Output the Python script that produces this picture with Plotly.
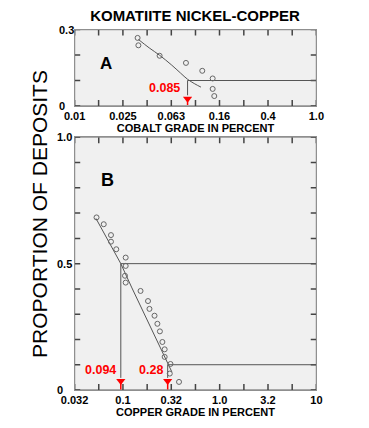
import math
import plotly.graph_objects as go

# Browser body margin (8px) shifts the figure; lay everything out in page pixels minus OFF.
OFF = 8
PAGE_W, PAGE_H = 369, 428
W, H = PAGE_W - OFF, PAGE_H - OFF

title_text = "KOMATIITE NICKEL-COPPER"
y_title = "PROPORTION OF DEPOSITS"

# ---- Panel A: cobalt grade ----
cobalt_grade = [0.0332, 0.0337, 0.0505, 0.0834, 0.1138, 0.1387, 0.1387, 0.143]
cobalt_prop = [0.267, 0.238, 0.197, 0.169, 0.138, 0.108, 0.067, 0.039]
cobalt_curve_grade = [0.0337, 0.0414, 0.0505, 0.063, 0.0753, 0.0859, 0.0986, 0.111]
cobalt_curve_prop = [0.261, 0.228, 0.199, 0.162, 0.129, 0.105, 0.087, 0.074]
cobalt_pct_grade = 0.086
cobalt_pct_label = "0.085"
cobalt_pct_prop = 0.1
cobalt_x_ticks = [0.01, 0.0158, 0.0251, 0.0398, 0.0631, 0.1, 0.158, 0.251, 0.398, 0.631, 1.0]
cobalt_x_text = ["0.01", "", "0.025", "", "0.063", "", "0.16", "", "0.4", "", "1.0"]
cobalt_y_ticks = [0, 0.1, 0.2, 0.3]
cobalt_y_labels = {0: "0", 0.3: "0.3"}

# ---- Panel B: copper grade ----
copper_grade = [0.0533, 0.0633, 0.0752, 0.0752, 0.0853, 0.1067, 0.1067, 0.105, 0.1067,
                0.152, 0.1816, 0.188, 0.212, 0.227, 0.241, 0.2557, 0.27, 0.27, 0.31,
                0.305, 0.38]
copper_prop = [0.683, 0.656, 0.613, 0.587, 0.557, 0.524, 0.491, 0.452, 0.425,
               0.392, 0.352, 0.321, 0.294, 0.262, 0.232, 0.190, 0.161, 0.131, 0.103,
               0.065, 0.032]
copper_curve_grade = [0.0526, 0.0708, 0.095, 0.1238, 0.1734, 0.29, 0.32]
copper_curve_prop = [0.679, 0.586, 0.5, 0.404, 0.285, 0.1, 0.072]
copper_pct_grade = [0.095, 0.29]
copper_pct_labels = ["0.094", "0.28"]
copper_pct_prop = [0.5, 0.1]
copper_x_ticks = [0.03163, 0.0562, 0.1, 0.178, 0.316, 0.562, 1.0, 1.78, 3.16, 5.62, 10]
copper_x_text = ["0.032", "", "0.1", "", "0.32", "", "1.0", "", "3.2", "", "10"]
copper_y_ticks = [0, 0.1, 0.2, 0.3, 0.4, 0.5, 0.6, 0.7, 0.8, 0.9, 1.0]
copper_y_labels = {0: "0", 0.5: "0.5", 1.0: "1.0"}

arrow_prop_a = 0.028
arrow_prop_b = 0.036
stem_bottom_a = 0.042
stem_bottom_b = 0.048

LINE = "#555555"
FRAME = "#8f8f8f"
TICK = "#444444"
RED = "#ff0000"
FONT = "Liberation Sans, Arial, sans-serif"
TICK_LEN = 6


def px_x(p):
    return (p - OFF) / W


def px_y(p):
    return 1 - (p - OFF) / H


fig = go.Figure()

x_left, x_right = 64, 321.5
ya_top, ya_bot = 29.5, 106
yb_top, yb_bot = 137.3, 390
x_dom = [px_x(x_left), px_x(x_right)]
ya_dom = [px_y(ya_bot), px_y(ya_top)]
yb_dom = [px_y(yb_bot), px_y(yb_top)]
panel_w = x_right - x_left

# Frame and inside tick marks (all four sides) drawn as line traces from the tick lists
panels = [("x", "y", [-2, 0], [0, 0.3], cobalt_x_ticks, cobalt_y_ticks, ya_bot - ya_top),
          ("x2", "y2", [-1.5, 1], [0, 1], copper_x_ticks, copper_y_ticks, yb_bot - yb_top)]
for xa, ya, xr, yr, xticks, yticks, ph in panels:
    x0, x1 = 10 ** xr[0], 10 ** xr[1]
    fig.add_trace(go.Scatter(x=[x0, x1, x1, x0, x0], y=[yr[0], yr[0], yr[1], yr[1], yr[0]],
                             mode="lines", line=dict(color=FRAME, width=1.3),
                             xaxis=xa, yaxis=ya, showlegend=False, hoverinfo="skip",
                             cliponaxis=False))
    dy = (yr[1] - yr[0]) * TICK_LEN / ph
    dlx = (xr[1] - xr[0]) * TICK_LEN / panel_w
    tx, ty = [], []
    for v in xticks:
        tx += [v, v, None, v, v, None]
        ty += [yr[0], yr[0] + dy, None, yr[1] - dy, yr[1], None]
    for v in yticks:
        tx += [x0, 10 ** (xr[0] + dlx), None, 10 ** (xr[1] - dlx), x1, None]
        ty += [v, v, None, v, v, None]
    fig.add_trace(go.Scatter(x=tx, y=ty, mode="lines", line=dict(color=TICK, width=1.5),
                             xaxis=xa, yaxis=ya, showlegend=False, hoverinfo="skip",
                             cliponaxis=False))

# Panel A traces
fig.add_trace(go.Scatter(x=cobalt_curve_grade, y=cobalt_curve_prop, mode="lines",
                         line=dict(color=LINE, width=1, shape="spline"),
                         xaxis="x", yaxis="y", showlegend=False, hoverinfo="skip"))
fig.add_trace(go.Scatter(x=[cobalt_pct_grade, 1.0], y=[cobalt_pct_prop, cobalt_pct_prop],
                         mode="lines", line=dict(color=LINE, width=1),
                         xaxis="x", yaxis="y", showlegend=False, hoverinfo="skip"))
fig.add_trace(go.Scatter(x=[cobalt_pct_grade, cobalt_pct_grade], y=[cobalt_pct_prop, stem_bottom_a],
                         mode="lines", line=dict(color=LINE, width=1),
                         xaxis="x", yaxis="y", showlegend=False, hoverinfo="skip"))
fig.add_trace(go.Scatter(x=cobalt_grade, y=cobalt_prop, mode="markers",
                         marker=dict(symbol="circle-open", size=5, color="#666666",
                                     line=dict(width=1, color="#666666")),
                         xaxis="x", yaxis="y", showlegend=False))
fig.add_trace(go.Scatter(x=[cobalt_pct_grade, cobalt_pct_grade], y=[arrow_prop_a, 0.004],
                         mode="lines", line=dict(color=RED, width=1.5),
                         xaxis="x", yaxis="y", showlegend=False, hoverinfo="skip"))
fig.add_trace(go.Scatter(x=[cobalt_pct_grade], y=[arrow_prop_a], mode="markers",
                         marker=dict(symbol="triangle-down", size=8, color=RED),
                         xaxis="x", yaxis="y", showlegend=False, hoverinfo="skip"))

# Panel B traces
fig.add_trace(go.Scatter(x=copper_curve_grade, y=copper_curve_prop, mode="lines",
                         line=dict(color=LINE, width=1),
                         xaxis="x2", yaxis="y2", showlegend=False, hoverinfo="skip"))
for g, p in zip(copper_pct_grade, copper_pct_prop):
    fig.add_trace(go.Scatter(x=[g, 10], y=[p, p], mode="lines", line=dict(color=LINE, width=1),
                             xaxis="x2", yaxis="y2", showlegend=False, hoverinfo="skip"))
    fig.add_trace(go.Scatter(x=[g, g], y=[p, stem_bottom_b], mode="lines",
                             line=dict(color=LINE, width=1),
                             xaxis="x2", yaxis="y2", showlegend=False, hoverinfo="skip"))
    fig.add_trace(go.Scatter(x=[g, g], y=[arrow_prop_b, 0.002], mode="lines",
                             line=dict(color=RED, width=1.5),
                             xaxis="x2", yaxis="y2", showlegend=False, hoverinfo="skip"))
fig.add_trace(go.Scatter(x=copper_grade, y=copper_prop, mode="markers",
                         marker=dict(symbol="circle-open", size=5, color="#666666",
                                     line=dict(width=1, color="#666666")),
                         xaxis="x2", yaxis="y2", showlegend=False))
fig.add_trace(go.Scatter(x=copper_pct_grade, y=[arrow_prop_b] * len(copper_pct_grade),
                         mode="markers", marker=dict(symbol="triangle-down", size=8, color=RED),
                         xaxis="x2", yaxis="y2", showlegend=False, hoverinfo="skip"))

axis_common = dict(showline=True, linecolor=FRAME, linewidth=1, mirror=True,
                   ticks="", tickmode="array", showgrid=False, zeroline=False,
                   fixedrange=True)
tick_font = dict(family=FONT, size=11, color="black", weight="bold")
xtitle_font = dict(family=FONT, size=11, color="black", weight="bold")

fig.update_layout(
    width=W, height=H, autosize=False,
    margin=dict(l=0, r=0, t=0, b=0, pad=0),
    paper_bgcolor="white", plot_bgcolor="#f0f0f0",
    showlegend=False,
    title=dict(text=title_text, x=px_x(195), xanchor="center", y=px_y(15.5), yanchor="middle",
               font=dict(family=FONT, size=15, color="black", weight="bold")),
    xaxis=dict(type="log", range=[-2, 0], domain=x_dom, anchor="y",
               tickvals=cobalt_x_ticks, ticktext=cobalt_x_text, tickfont=tick_font,
               title=dict(text="COBALT GRADE IN PERCENT", font=xtitle_font, standoff=2),
               **axis_common),
    yaxis=dict(range=[0, 0.3], domain=ya_dom, anchor="x",
               tickvals=cobalt_y_ticks, showticklabels=False, **axis_common),
    xaxis2=dict(type="log", range=[-1.5, 1], domain=x_dom, anchor="y2",
                tickvals=copper_x_ticks, ticktext=copper_x_text, tickfont=tick_font,
                title=dict(text="COPPER GRADE IN PERCENT", font=xtitle_font, standoff=2),
                **axis_common),
    yaxis2=dict(range=[0, 1], domain=yb_dom, anchor="x2",
                tickvals=copper_y_ticks, showticklabels=False, **axis_common),
)

annotations = []
for v, t in cobalt_y_labels.items():
    annotations.append(dict(text=t, x=px_x(45), xref="paper", xanchor="left",
                            y=v, yref="y", yanchor="middle", showarrow=False,
                            font=tick_font))
for v, t in copper_y_labels.items():
    annotations.append(dict(text=t, x=px_x(43), xref="paper", xanchor="left",
                            y=v, yref="y2", yanchor="middle", showarrow=False,
                            font=tick_font))
annotations.append(dict(text=y_title, textangle=-90, x=px_x(26), xref="paper", xanchor="center",
                        y=px_y(214), yref="paper", yanchor="middle", showarrow=False,
                        font=dict(family=FONT, size=21, color="black")))
annotations.append(dict(text="A", x=-1.739, xref="x", y=0.165, yref="y", showarrow=False,
                        font=dict(family=FONT, size=17, color="black", weight="bold")))
annotations.append(dict(text="B", x=-1.1615, xref="x2", y=0.832, yref="y2", showarrow=False,
                        font=dict(family=FONT, size=18, color="black", weight="bold")))
annotations.append(dict(text=cobalt_pct_label, x=math.log10(cobalt_pct_grade), xref="x",
                        xanchor="right", xshift=-6, y=0.07, yref="y", yanchor="middle",
                        showarrow=False, font=dict(family=FONT, size=12.5, color=RED, weight="bold")))
for g, t in zip(copper_pct_grade, copper_pct_labels):
    annotations.append(dict(text=t, x=math.log10(g), xref="x2", xanchor="right", xshift=-3,
                            y=0.081, yref="y2", yanchor="middle", showarrow=False,
                            font=dict(family=FONT, size=12.5, color=RED, weight="bold")))
fig.update_layout(annotations=annotations)

fig.write_html("out.html")
